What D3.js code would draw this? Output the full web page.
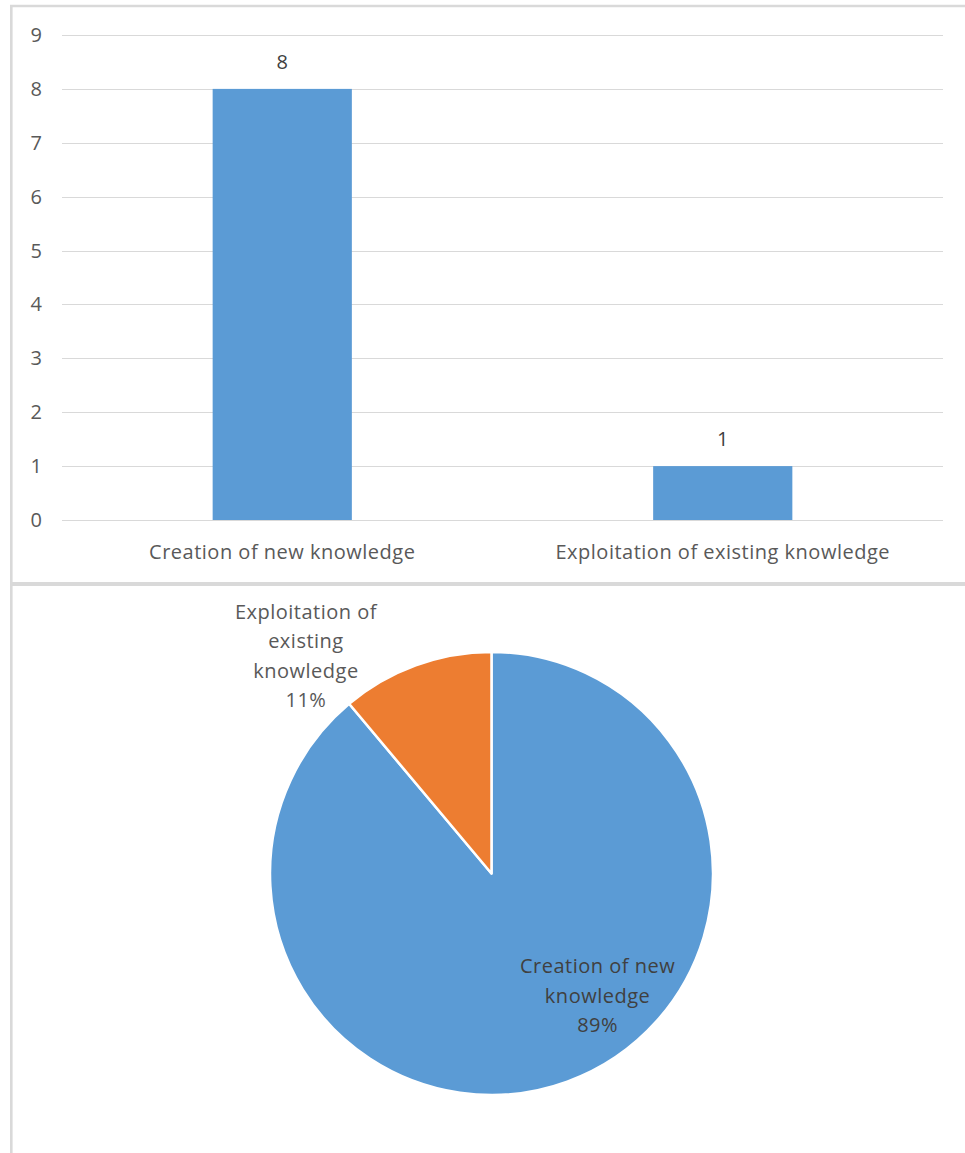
<!DOCTYPE html>
<html>
<head>
<meta charset="utf-8">
<script src="https://cdn.jsdelivr.net/npm/d3@7"></script>
<style>
  html, body { margin: 0; padding: 0; background: #fff; }
  svg { display: block; font-family: "Open Sans", "Noto Sans", sans-serif; }
</style>
</head>
<body>
<svg id="chart" width="965" height="1153"></svg>
<script>
// Knowledge orientation counts
const categories = ["Creation of new knowledge", "Exploitation of existing knowledge"];
const counts = [8, 1];
const yTicks = [0, 1, 2, 3, 4, 5, 6, 7, 8, 9];
const sliceColors = ["#5b9bd5", "#ed7d31"];
// Pie label text lines (wrapped as the chart shows them)
const pieLabelLines = [
  ["Creation of new", "knowledge"],
  ["Exploitation of", "existing", "knowledge"]
];

const svg = d3.select("#chart");
const fontSize = 20;
const spacing = 0.5;
const textGrey = "#595959";
const borderGrey = "#d9d9d9";

// ---- frame borders of the two chart panels ----
const frame = svg.append("g");
frame.append("line").attr("x1", 10).attr("x2", 965).attr("y1", 6).attr("y2", 6)
  .attr("stroke", borderGrey).attr("stroke-width", 2.5);
frame.append("line").attr("x1", 11.3).attr("x2", 11.3).attr("y1", 5).attr("y2", 1153)
  .attr("stroke", borderGrey).attr("stroke-width", 2.6);
frame.append("line").attr("x1", 10).attr("x2", 965).attr("y1", 584).attr("y2", 584)
  .attr("stroke", borderGrey).attr("stroke-width", 4);

// ---- column chart ----
const plot = { left: 62, right: 943, top: 35, bottom: 520 };
const x = d3.scaleBand().domain(categories).range([plot.left, plot.right]).padding(0);
const y = d3.scaleLinear().domain([0, 9]).range([plot.bottom, plot.top]);
const barFrac = 0.316;
const barW = x.bandwidth() * barFrac;

const bar = svg.append("g");
bar.selectAll("line.grid").data(yTicks).join("line")
  .attr("class", "grid")
  .attr("x1", plot.left).attr("x2", plot.right)
  .attr("y1", d => Math.round(y(d)) + 0.5).attr("y2", d => Math.round(y(d)) + 0.5)
  .attr("stroke", borderGrey).attr("stroke-width", 1);

bar.selectAll("text.ytick").data(yTicks).join("text")
  .attr("class", "ytick")
  .attr("x", 42).attr("y", d => y(d))
  .attr("dy", "0.35em").attr("text-anchor", "end")
  .attr("font-size", fontSize).attr("fill", textGrey)
  .text(d => d);

bar.selectAll("rect.bar").data(counts).join("rect")
  .attr("class", "bar")
  .attr("x", (d, i) => x(categories[i]) + (x.bandwidth() - barW) / 2)
  .attr("width", barW)
  .attr("y", d => y(d))
  .attr("height", d => y(0) - y(d))
  .attr("fill", sliceColors[0]);

bar.selectAll("text.value").data(counts).join("text")
  .attr("class", "value")
  .attr("x", (d, i) => x(categories[i]) + x.bandwidth() / 2)
  .attr("y", d => y(d) - 20)
  .attr("text-anchor", "middle")
  .attr("font-size", fontSize).attr("fill", "#404040")
  .text(d => d);

bar.selectAll("text.cat").data(categories).join("text")
  .attr("class", "cat")
  .attr("x", d => x(d) + x.bandwidth() / 2)
  .attr("y", 559)
  .attr("text-anchor", "middle")
  .attr("font-size", fontSize).attr("letter-spacing", spacing).attr("fill", textGrey)
  .text(d => d);

// ---- pie chart ----
const cx = 491.5, cy = 873.5, r = 221.5;
const total = d3.sum(counts);
const pie = d3.pie().sort(null).value(d => d);
const arcs = pie(counts);
const arc = d3.arc().innerRadius(0).outerRadius(r);

const pg = svg.append("g").attr("transform", `translate(${cx},${cy})`);
pg.selectAll("path").data(arcs).join("path")
  .attr("d", arc)
  .attr("fill", (d, i) => sliceColors[i])
  .attr("stroke", "#fff").attr("stroke-width", 2.5)
  .attr("stroke-linejoin", "round");

// label anchor points (polar: angle from 12 o'clock, radius factor)
const labelPolar = [
  { angle: 139, k: 0.73, color: "#404040" },
  { angle: 319.5, k: 1.29, color: textGrey }
];
const lineH = 29.5;
arcs.forEach((a, i) => {
  const p = labelPolar[i];
  const rad = p.angle * Math.PI / 180;
  const lx = Math.sin(rad) * r * p.k;
  const ly = -Math.cos(rad) * r * p.k;
  const lines = pieLabelLines[i].concat([Math.round(counts[i] / total * 100) + "%"]);
  const t = pg.append("text")
    .attr("text-anchor", "middle")
    .attr("font-size", fontSize).attr("letter-spacing", spacing).attr("fill", p.color);
  const y0 = ly - (lines.length - 1) * lineH / 2;
  lines.forEach((s, j) => {
    t.append("tspan").attr("x", lx).attr("y", y0 + j * lineH).attr("dy", "0.35em").text(s);
  });
});
</script>
</body>
</html>
